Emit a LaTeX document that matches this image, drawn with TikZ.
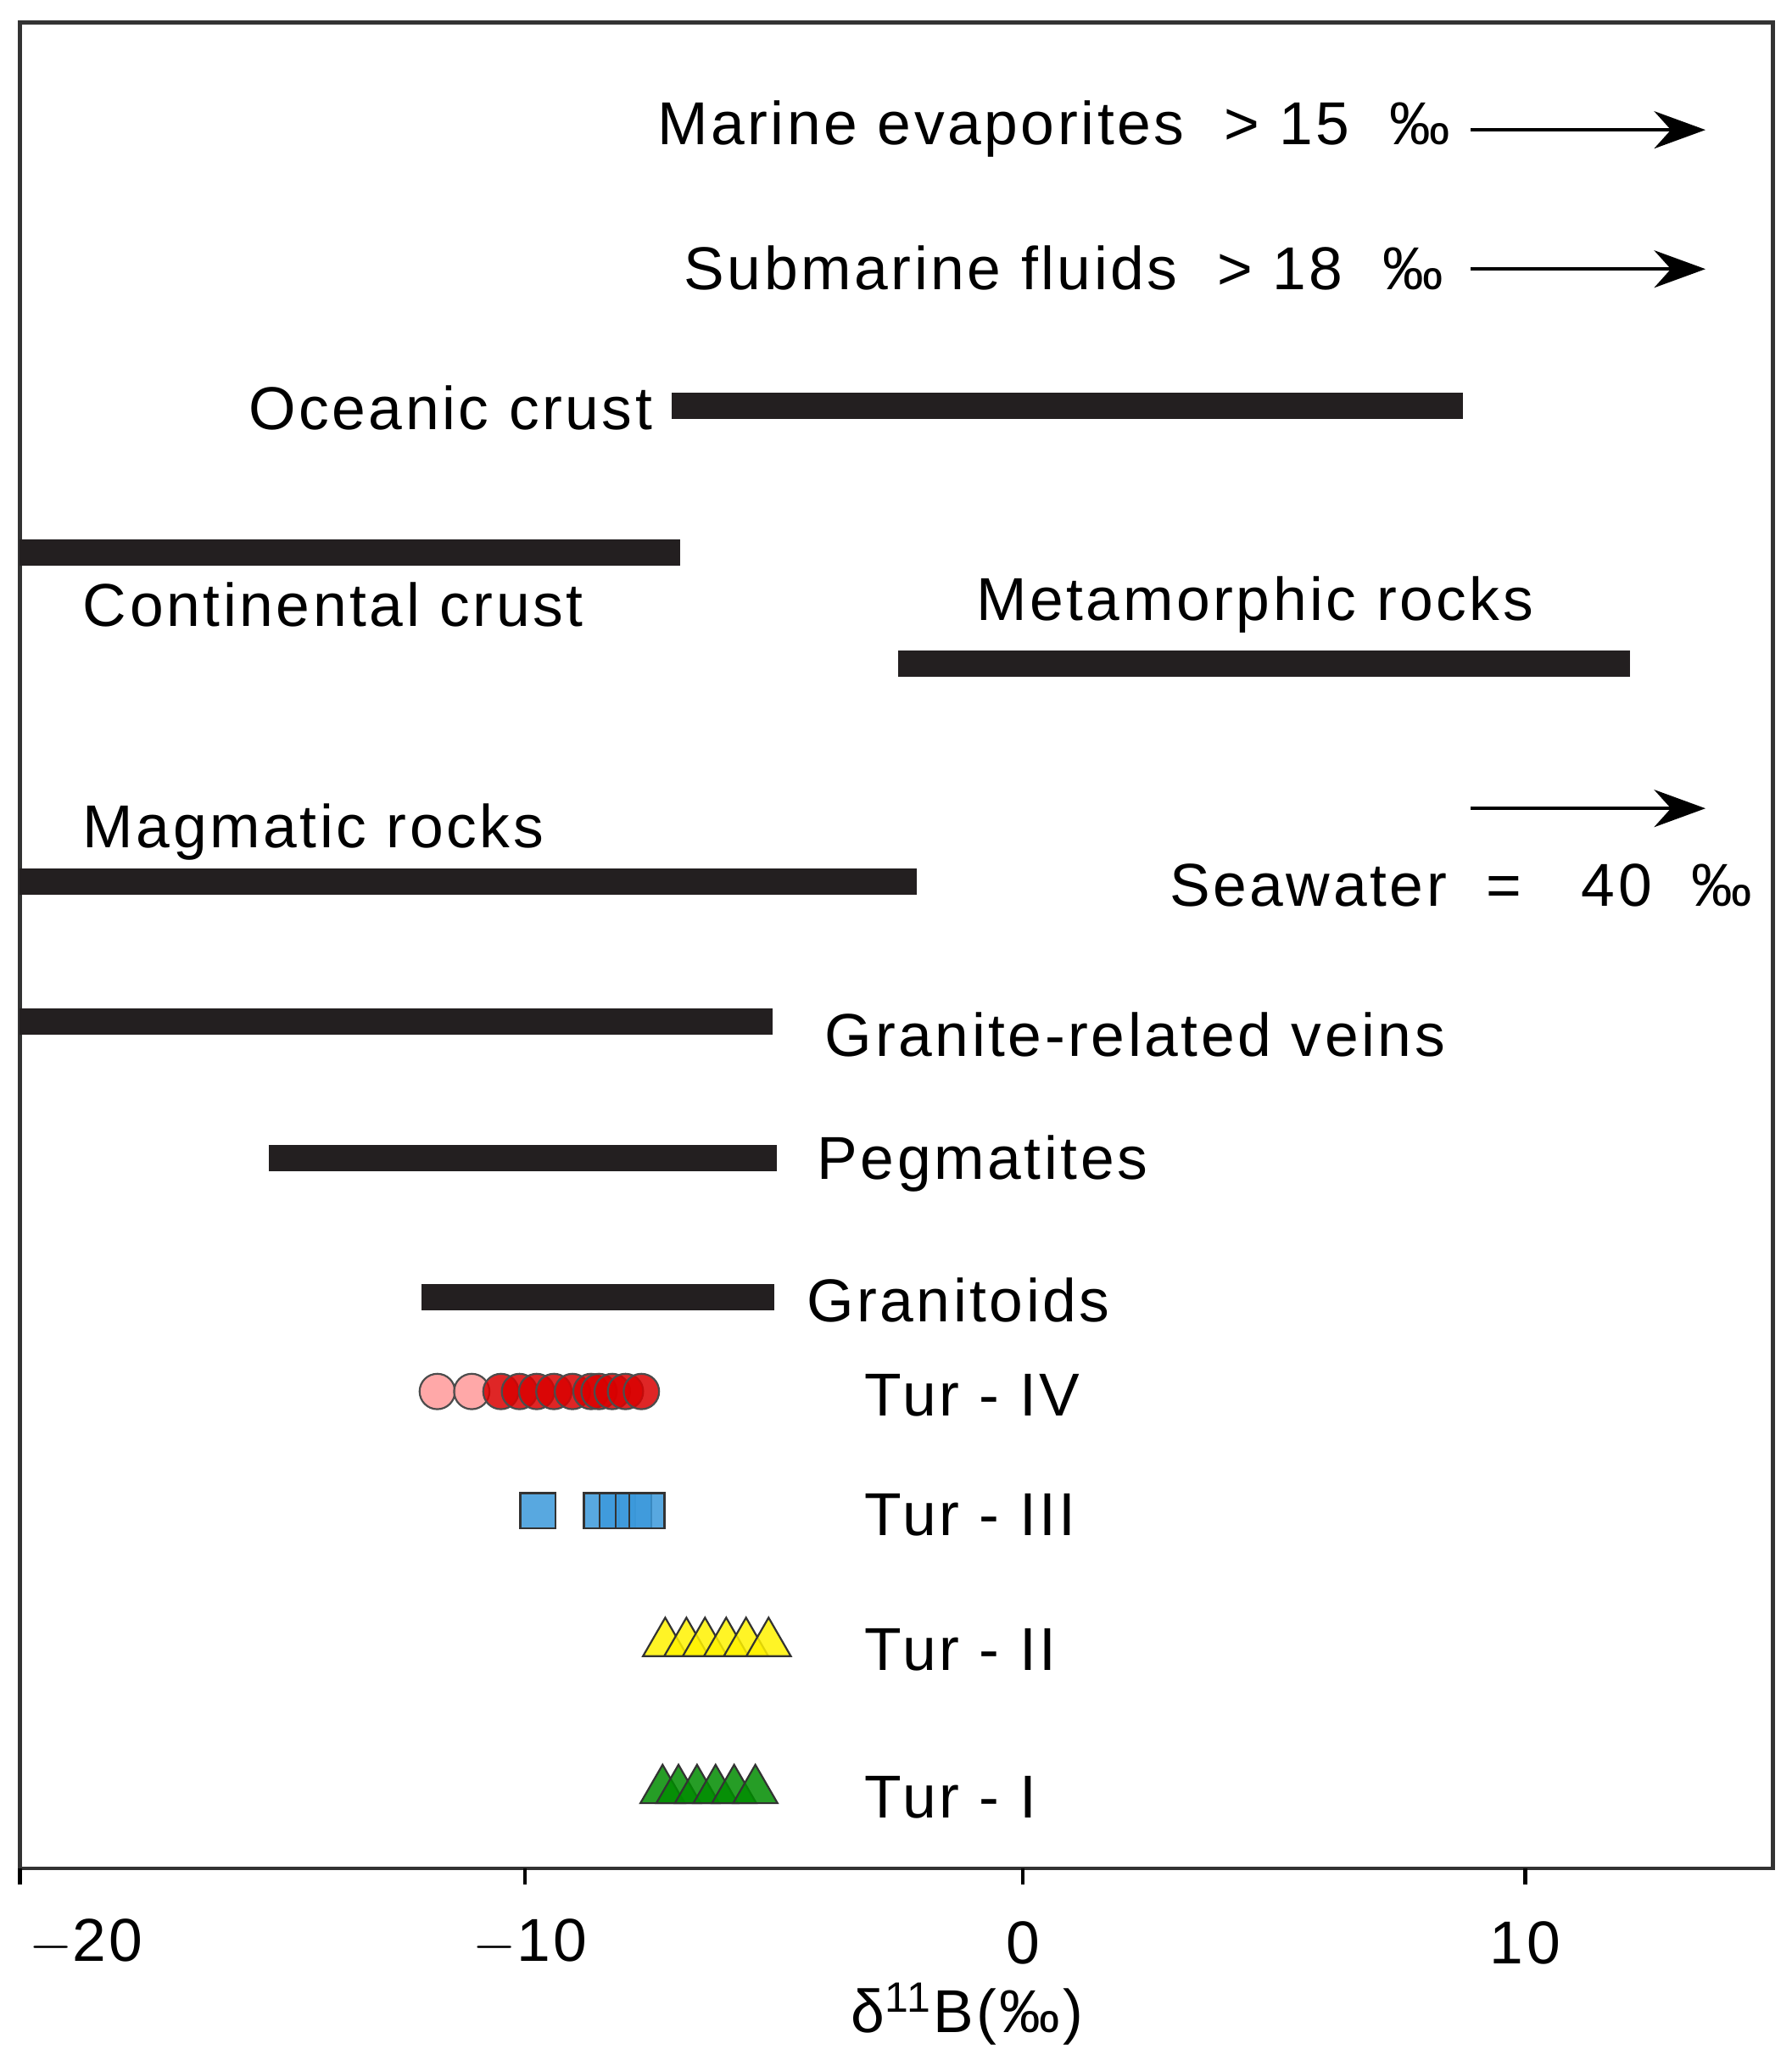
\documentclass[tikz,border=0pt]{standalone}
\usepackage{fontspec}
\setmainfont[LetterSpace=5]{Liberation Sans}
\usetikzlibrary{shapes.geometric, arrows.meta}
\definecolor{barcol}{HTML}{231F20}
\tikzset{
  srcbar/.style = {line width = 5.6pt, barcol},
  lab/.style = {font = \fontsize{13}{15}\selectfont, inner sep = 0pt},
  limit/.style = {-{Stealth[length = 11pt, width = 8pt]}, thick},
  dotr/.style = {circle, draw = black!70, fill = red!85!black, fill opacity = 0.85, minimum size = 7.6pt, inner sep = 0pt},
  dotp/.style = {dotr, fill = red!40!white},
  sq/.style = {rectangle, draw = black!80, fill = cyan!70!blue!80, fill opacity = 0.85, minimum size = 7.6pt, inner sep = 0pt},
  triy/.style = {regular polygon, regular polygon sides = 3, draw = black!80, fill = yellow, fill opacity = 0.85, minimum size = 11pt, inner sep = 0pt},
  trig/.style = {triy, fill = green!55!black}
}
\begin{document}
\begin{tikzpicture}[x = 0.01cm, y = -0.01cm]
  \useasboundingbox (0,0) rectangle (1352,1559);
  \draw[thick, black!80] (15,17) rectangle (1338,1410);
  % ticks and axis labels
  \foreach \px/\lx/\t in {15/65/$-$20, 396/400/$-$10, 772/772/0, 1151/1151/10} {
    \draw[thick] (\px,1410) -- (\px,1422);
    \node[lab] (tk\px) at (\lx,1466) {\t};
  }
  \node[lab] (xtitle) at (730,1520) {δ\textsuperscript{11}B(‰)};
  % ranges
  \draw[srcbar] (507,306) -- (1104,306);
  \draw[srcbar] (15,417) -- (513,417);
  \draw[srcbar] (678,501) -- (1230,501);
  \draw[srcbar] (15,665) -- (692,665);
  \draw[srcbar] (15,771) -- (583,771);
  \draw[srcbar] (203,874) -- (586,874);
  \draw[srcbar] (318,979) -- (584,979);
  % texts
  \node[lab, anchor = east] (evap) at (1095,97) {Marine evaporites \ > 15 \ ‰};
  \node[lab, anchor = east] (subm) at (1090,202) {Submarine fluids \ > 18 \ ‰};
  \node[lab, anchor = east] (ocean) at (493,308) {Oceanic crust};
  \node[lab, anchor = west] (cont) at (62,456) {Continental crust};
  \node[lab, anchor = west] (meta) at (736,456) {Metamorphic rocks};
  \node[lab, anchor = west] (magm) at (62,628) {Magmatic rocks};
  \node[lab, anchor = west] (sea) at (882,668) {Seawater \ = \ \ 40 \ ‰};
  \node[lab, anchor = west] (vein) at (622,781) {Granite-related veins};
  \node[lab, anchor = west] (pegm) at (616,878) {Pegmatites};
  \node[lab, anchor = west] (grnt) at (608,981) {Granitoids};
  \node[lab, anchor = west] (tur4) at (652,1053) {Tur - IV};
  \node[lab, anchor = west] (tur3) at (652,1143) {Tur - III};
  \node[lab, anchor = west] (tur2) at (652,1245) {Tur - II};
  \node[lab, anchor = west] (tur1) at (652,1356) {Tur - I};
  % arrows
  \coordinate (a1) at (1110,98);  \coordinate (b1) at (1287,98);
  \coordinate (a2) at (1110,203); \coordinate (b2) at (1287,203);
  \coordinate (a3) at (1110,610); \coordinate (b3) at (1287,610);
  \draw[limit] (a1) -- (b1);
  \draw[limit] (a2) -- (b2);
  \draw[limit] (a3) -- (b3);
  % samples
  \foreach \x in {330,356} \node[dotp] at (\x,1050) {};
  \foreach \x in {378,392,405,418,432,446,452,462,472,484} \node[dotr] at (\x,1050) {};
  \foreach \x in {406,454,466,478,488} \node[sq] at (\x,1140) {};
  \foreach \x in {502,518,532,548,563,580} \node[triy] at (\x,1240) {};
  \foreach \x in {500,512,526,540,554,570} \node[trig] at (\x,1351) {};
\end{tikzpicture}
\end{document}
